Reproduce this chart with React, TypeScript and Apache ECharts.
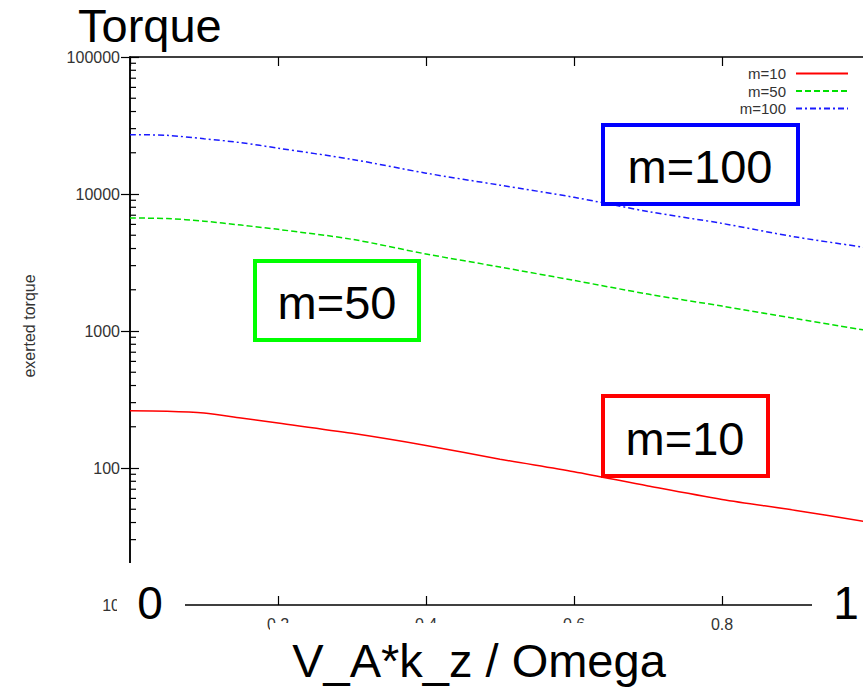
import React, { useEffect, useRef } from "react";
import * as echarts from "echarts";

const xValues = [0, 0.05, 0.1, 0.15, 0.2, 0.3, 0.4, 0.5, 0.6, 0.7, 0.8, 0.9, 1.0];
const torqueM10 = [262, 260, 252, 232, 213, 179, 146, 116, 94, 74, 59, 49, 40];
const torqueM50 = [6680, 6620, 6330, 5930, 5520, 4670, 3650, 2930, 2340, 1860, 1520, 1230, 1000];
const torqueM100 = [27100, 26800, 25300, 23700, 21600, 17900, 14200, 11600, 9460, 7450, 6100, 4850, 4030];
const seriesNames = ["m=10", "m=50", "m=100"];
const decades = [10, 100, 1000, 10000];
const minorSteps = [2, 3, 4, 5, 6, 7, 8, 9];

const FONT = "Liberation Sans, Arial, sans-serif";

export default function App() {
  const ref = useRef<HTMLDivElement>(null);
  useEffect(() => {
    if (!ref.current) return;
    const chart = echarts.init(ref.current, undefined, { renderer: "svg" });
    const minorVals: number[] = [];
    decades.forEach((d) => minorSteps.forEach((s) => minorVals.push(d * s)));
    const minorData: number[][] = [];
    minorVals.forEach((v) => {
      minorData.push([0, v]);
      minorData.push([1, v]);
    });
    const toPairs = (arr: number[]) => xValues.map((x, i) => [x, arr[i]]);
    const option: any = {
      animation: false,
      backgroundColor: "#ffffff",
      textStyle: { fontFamily: FONT },
      title: {
        text: "Torque",
        left: 78,
        top: 5,
        padding: 0,
        textStyle: { fontSize: 47, lineHeight: 40, fontWeight: "normal", color: "#000", fontFamily: FONT },
      },
      legend: {
        data: seriesNames,
        orient: "vertical",
        align: "right",
        right: 9,
        top: 61,
        itemWidth: 52,
        itemHeight: 14,
        itemGap: 2.5,
        itemStyle: { opacity: 0 },
        textStyle: { fontSize: 15, color: "#333", fontFamily: FONT, padding: [0, 5, 0, 0] },
      },
      grid: {
        left: 130,
        top: 57,
        right: -7,
        height: 548,
        containLabel: false,
        outerBoundsMode: "none",
      },
      xAxis: [
        {
          type: "value",
          min: 0,
          max: 1,
          interval: 0.2,
          position: "bottom",
          axisLine: { show: true, lineStyle: { color: "#000", width: 1.5 } },
          axisTick: { inside: true, length: 9, lineStyle: { color: "#000", width: 1.2 } },
          axisLabel: {
            fontSize: 16,
            color: "#333",
            margin: 11,
            fontFamily: FONT,
            showMaxLabel: false,
            showMinLabel: false,
            formatter: (v: number) => String(Math.round(v * 10) / 10),
          },
          splitLine: { show: false },
        },
        {
          type: "value",
          min: 0,
          max: 1,
          interval: 0.2,
          position: "top",
          axisLine: { show: true, lineStyle: { color: "#000", width: 1.5 } },
          axisTick: { inside: true, length: 9, lineStyle: { color: "#000", width: 1.2 } },
          axisLabel: { show: false },
          splitLine: { show: false },
        },
      ],
      yAxis: [
        {
          type: "log",
          logBase: 10,
          min: 10,
          max: 100000,
          position: "left",
          axisLine: { show: true, lineStyle: { color: "#000", width: 1.5 } },
          axisTick: { inside: true, length: 9, lineStyle: { color: "#000", width: 1.2 } },
          axisLabel: {
            fontSize: 16,
            color: "#333",
            margin: 10,
            fontFamily: FONT,
            formatter: (v: number) => String(Math.round(v)),
          },
          splitLine: { show: false },
        },
        {
          type: "log",
          logBase: 10,
          min: 10,
          max: 100000,
          position: "right",
          axisLine: { show: true, lineStyle: { color: "#000", width: 1.5 } },
          axisTick: { inside: true, length: 9, lineStyle: { color: "#000", width: 1.2 } },
          axisLabel: { show: false },
          splitLine: { show: false },
        },
      ],
      series: [
        {
          name: seriesNames[0],
          type: "line",
          data: toPairs(torqueM10),
          symbol: "none",
          smooth: 0.3,
          lineStyle: { color: "#ff0000", width: 1.5, type: "solid" },
          itemStyle: { color: "#ff0000" },
        },
        {
          name: seriesNames[1],
          type: "line",
          data: toPairs(torqueM50),
          symbol: "none",
          smooth: 0.3,
          lineStyle: { color: "#00e000", width: 1.5, type: [6, 3] },
          itemStyle: { color: "#00e000" },
        },
        {
          name: seriesNames[2],
          type: "line",
          data: toPairs(torqueM100),
          symbol: "none",
          smooth: 0.3,
          lineStyle: { color: "#1a1aff", width: 1.5, type: [6, 3, 2, 3] },
          itemStyle: { color: "#1a1aff" },
        },
        {
          name: "minor",
          type: "custom",
          data: minorData,
          clip: false,
          silent: true,
          renderItem: (params: any, api: any) => {
            const xv = api.value(0);
            const p = api.coord([xv, api.value(1)]);
            const dir = xv < 0.5 ? 1 : -1;
            return {
              type: "line",
              shape: { x1: p[0], y1: p[1], x2: p[0] + dir * 6, y2: p[1] },
              style: { stroke: "#000", lineWidth: 1.2 },
            };
          },
        },
      ],
      graphic: [
        {
          type: "text",
          x: 29,
          y: 326,
          rotation: Math.PI / 2,
          style: {
            text: "exerted torque",
            fontSize: 16,
            fill: "#333",
            fontFamily: FONT,
            textAlign: "center",
            textVerticalAlign: "middle",
          },
        },
        {
          type: "rect",
          z: 100,
          shape: { x: 603, y: 125, width: 195, height: 79 },
          style: { fill: "#fff", stroke: "#0000ff", lineWidth: 4 },
        },
        {
          type: "text",
          z: 101,
          x: 700,
          y: 166,
          style: { text: "m=100", fontSize: 47, fill: "#000", fontFamily: FONT, textAlign: "center", textVerticalAlign: "middle" },
        },
        {
          type: "rect",
          z: 100,
          shape: { x: 255, y: 261, width: 164, height: 79 },
          style: { fill: "#fff", stroke: "#00ff00", lineWidth: 4 },
        },
        {
          type: "text",
          z: 101,
          x: 337,
          y: 302,
          style: { text: "m=50", fontSize: 47, fill: "#000", fontFamily: FONT, textAlign: "center", textVerticalAlign: "middle" },
        },
        {
          type: "rect",
          z: 100,
          shape: { x: 603, y: 396, width: 165, height: 80 },
          style: { fill: "#fff", stroke: "#ff0000", lineWidth: 4 },
        },
        {
          type: "text",
          z: 101,
          x: 685,
          y: 438,
          style: { text: "m=10", fontSize: 47, fill: "#000", fontFamily: FONT, textAlign: "center", textVerticalAlign: "middle" },
        },
        {
          type: "rect",
          z: 100,
          shape: { x: 117, y: 563, width: 68, height: 77 },
          style: { fill: "#fff" },
        },
        {
          type: "text",
          z: 101,
          x: 150,
          y: 603,
          style: { text: "0", fontSize: 46, fill: "#000", fontFamily: FONT, textAlign: "center", textVerticalAlign: "middle" },
        },
        {
          type: "rect",
          z: 100,
          shape: { x: 812, y: 562, width: 60, height: 78 },
          style: { fill: "#fff" },
        },
        {
          type: "text",
          z: 101,
          x: 846,
          y: 603,
          style: { text: "1", fontSize: 46, fill: "#000", fontFamily: FONT, textAlign: "center", textVerticalAlign: "middle" },
        },
        {
          type: "rect",
          z: 100,
          shape: { x: 270, y: 623, width: 420, height: 64 },
          style: { fill: "#fff" },
        },
        {
          type: "text",
          z: 101,
          x: 479,
          y: 660,
          style: {
            text: "V_A*k_z / Omega",
            fontSize: 47,
            fill: "#000",
            fontFamily: FONT,
            textAlign: "center",
            textVerticalAlign: "middle",
          },
        },
      ],
    };
    chart.setOption(option);
    return () => chart.dispose();
  }, []);
  return (
    <div
      ref={ref}
      style={{ position: "absolute", left: 0, top: 0, width: 863, height: 687 }}
    />
  );
}
